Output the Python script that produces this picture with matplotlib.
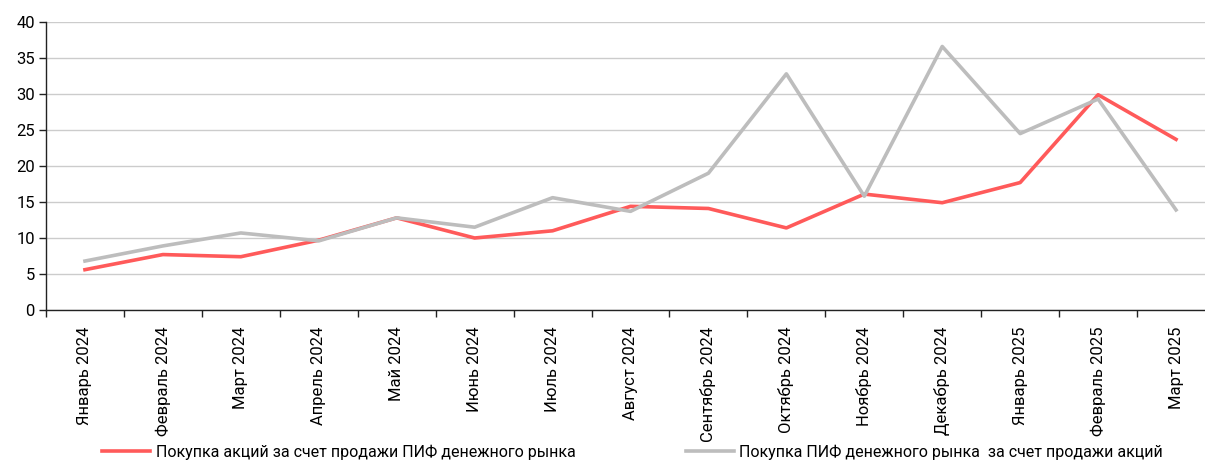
import matplotlib.pyplot as plt
import numpy as np
from matplotlib.ticker import FixedLocator

plt.rcParams['font.family'] = ['Roboto', 'DejaVu Sans']

months = ["Январь 2024", "Февраль 2024", "Март 2024", "Апрель 2024", "Май 2024",
          "Июнь 2024", "Июль 2024", "Август 2024", "Сентябрь 2024", "Октябрь 2024",
          "Ноябрь 2024", "Декабрь 2024", "Январь 2025", "Февраль 2025", "Март 2025"]

# покупка акций за счет продажи ПИФ денежного рынка
stocks_buy = [5.6, 7.7, 7.4, 9.7, 12.8, 10.0, 11.0, 14.4, 14.1, 11.4,
              16.1, 14.9, 17.7, 29.9, 23.7]
# покупка ПИФ денежного рынка за счет продажи акций
mmf_buy = [6.8, 8.9, 10.7, 9.6, 12.8, 11.5, 15.6, 13.7, 19.0, 32.8,
           15.8, 36.6, 24.5, 29.3, 13.9]

label_red = "Покупка акций за счет продажи ПИФ денежного рынка"
label_gray = "Покупка ПИФ денежного рынка  за счет продажи акций"

W, H = 1205, 461
fig = plt.figure(figsize=(W / 100, H / 100), dpi=100)
ax = fig.add_axes([46 / W, 151 / H, 1169 / W, 288 / H])

x = np.arange(len(months))
ax.plot(x, stocks_buy, color='#ff5a5a', lw=2.6, label=label_red, zorder=3)
ax.plot(x, mmf_buy, color='#bdbdbd', lw=2.6, label=label_gray, zorder=3)

ax.set_xlim(-0.5, len(months) - 0.5)
ax.set_ylim(0, 40)
ax.set_yticks(range(0, 41, 5))
ax.yaxis.grid(True, color='#cccccc', lw=1.0)
ax.set_axisbelow(True)

ax.set_xticks(x)
ax.set_xticklabels(months, rotation=90, fontsize=12)
ax.tick_params(axis='x', which='major', length=0, pad=12)
ax.xaxis.set_minor_locator(FixedLocator(np.arange(-0.5, len(months), 1.0)))
ax.tick_params(axis='x', which='minor', length=5, width=1, color='#222222')
ax.tick_params(axis='y', length=5, width=1, color='#222222', labelsize=12, pad=3)

for s in ['top', 'right']:
    ax.spines[s].set_visible(False)
for s in ['left', 'bottom']:
    ax.spines[s].set_color('#222222')
    ax.spines[s].set_linewidth(1.0)

fig.legend(loc='center left', bbox_to_anchor=(88 / W, 1 - 452 / H), ncol=2,
           frameon=False, fontsize=11.5, handlelength=3.0, columnspacing=6.9,
           handletextpad=0.35)

fig.savefig('out.png', dpi=100)
